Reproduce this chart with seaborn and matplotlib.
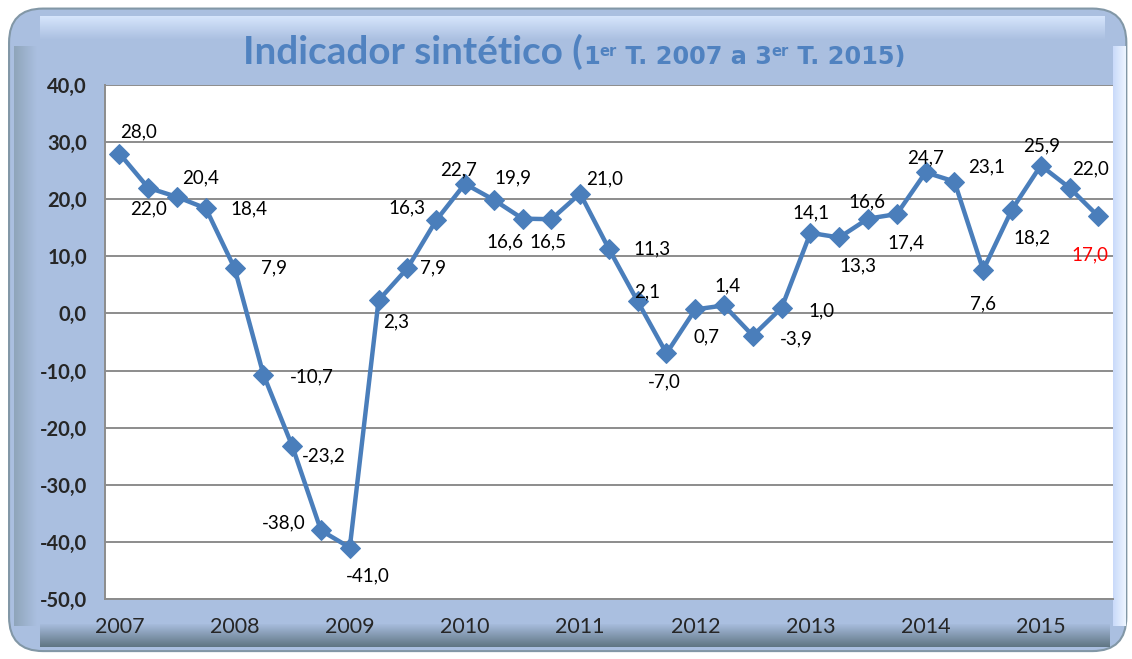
import numpy as np
import matplotlib
matplotlib.use("Agg")
import matplotlib.pyplot as plt
import seaborn as sns
import pandas as pd
from matplotlib.patches import FancyBboxPatch
from matplotlib.colors import LinearSegmentedColormap
from matplotlib.ticker import FixedLocator

# Quarterly values, 1st Q 2007 .. 3rd Q 2015
years = [2007, 2008, 2009, 2010, 2011, 2012, 2013, 2014, 2015]
values = [28.0, 22.0, 20.4, 18.4,
          7.9, -10.7, -23.2, -38.0,
          -41.0, 2.3, 7.9, 16.3,
          22.7, 19.9, 16.6, 16.5,
          21.0, 11.3, 2.1, -7.0,
          0.7, 1.4, -3.9, 1.0,
          14.1, 13.3, 16.6, 17.4,
          24.7, 23.1, 7.6, 18.2,
          25.9, 22.0, 17.0]
# label offsets (pixels) relative to each point
label_dx = [19, 0, 24, 43, 39, 48, 32, -37, 18, 18, 26, -29, -6, 19, -18, -3, 24, 43,
            9, -2, 11, 3, 43, 40, 1, 19, -1, 9, 0, 32, 0, 20, 1, 21, -8]
label_dy = [22, -21, 19, -1, 0, -2, -10, 8, -28, -22, 0, 12, 14, 22, -23, -23, 15, 0,
            10, -28, -27, 20, -3, -3, 20, -28, 17, -29, 15, 15, -34, -28, 20, 19, -39]
yticks = [40, 30, 20, 10, 0, -10, -20, -30, -40, -50]

df = pd.DataFrame({"idx": range(len(values)), "valor": values})

LINE = "#4a7ebb"
BG = "#aabfe0"
GRID = "#8c8c8c"

sns.set_style("white")
plt.rcParams["font.family"] = ["Lato", "DejaVu Sans"]

fig = plt.figure(figsize=(11.32, 6.59), dpi=100)
fig.patch.set_facecolor("white")

# rounded frame
frame = FancyBboxPatch((0.008, 0.012), 0.987, 0.975, boxstyle="round,pad=0,rounding_size=0.03",
                       transform=fig.transFigure, facecolor=BG, edgecolor="#8297a6",
                       linewidth=1.5, zorder=0, mutation_aspect=1132 / 659)
fig.patches.append(frame)


def band(rect, colors, vertical):
    b = fig.add_axes(rect, zorder=0.5)
    g = np.linspace(0, 1, 64)
    g = g.reshape(-1, 1) if vertical else g.reshape(1, -1)
    b.imshow(g, aspect="auto", cmap=LinearSegmentedColormap.from_list("c", colors))
    b.axis("off")


# bevel shading around the frame
band([0.012, 0.05, 0.02, 0.88], ["#8fa5ba", BG], False)
band([0.983, 0.05, 0.011, 0.88], ["#c9dafa", "#eef5ff"], False)
band([0.035, 0.94, 0.94, 0.035], ["#d6e5fc", BG], True)
band([0.035, 0.018, 0.945, 0.035], [BG, "#5f7583"], True)

ax = fig.add_axes([0.0928, 0.0911, 0.8902, 0.7799], zorder=1)
ax.set_facecolor("white")

sns.lineplot(data=df, x="idx", y="valor", ax=ax, color=LINE, linewidth=3.2,
             marker="D", markersize=10, markeredgecolor=LINE, zorder=3)

for i, v in enumerate(values):
    txt = f"{v:.1f}".replace(".", ",")
    ax.annotate(txt, (i, v), xytext=(label_dx[i], label_dy[i]), textcoords="offset pixels",
                ha="center", va="center", fontsize=13.5,
                color="red" if i == len(values) - 1 else "black", zorder=4)

ax.set_xlim(-0.5, len(values) - 0.5)
ax.set_ylim(-50, 40)
ax.set_yticks(yticks)
ax.set_yticklabels([f"{t:.1f}".replace(".", ",") for t in yticks], fontsize=14.5,
                   fontweight="bold")
ax.yaxis.grid(True, color=GRID, linewidth=1.4)
ax.set_axisbelow(True)

year_pos = [i for i in range(len(values)) if i % 4 == 0]
ax.set_xticks(year_pos)
ax.set_xticklabels([str(y) for y in years], fontsize=15.5)
ax.xaxis.set_minor_locator(FixedLocator(np.arange(-0.5, len(values), 1)))
ax.tick_params(axis="x", which="major", length=0, pad=13)
ax.tick_params(axis="x", which="minor", length=6, color=GRID, width=1.4, direction="out")
ax.tick_params(axis="y", length=6, color=GRID, width=1.4, direction="out", pad=7)
ax.set_xlabel("")
ax.set_ylabel("")
for s in ["top", "right"]:
    ax.spines[s].set_visible(False)
for s in ["left", "bottom"]:
    ax.spines[s].set_color(GRID)
    ax.spines[s].set_linewidth(1.4)

# title built from pieces so the superscripts sit right after the digits
TITLE = "#5082c0"
pieces = [("Indicador sintético (", 25, 0, "Lato"), ("1", 15.5, 0, "DejaVu Sans"),
          ("er", 9.5, 7, "DejaVu Sans"), (" T. 2007 a 3", 15.5, 0, "DejaVu Sans"),
          ("er", 9.5, 7, "DejaVu Sans"), (" T. 2015)", 15.5, 0, "DejaVu Sans")]
renderer = fig.canvas.get_renderer()
x0, x1 = 243, 905
base_px = 659 - 64
# measure once, then rescale so the title spans the same width as the original
widths = []
for text, size, rise, fam in pieces:
    t = fig.text(0, 0, text, fontsize=size, fontweight="bold", family=fam)
    widths.append(t.get_window_extent(renderer).width)
    t.remove()
scale = (x1 - x0) / sum(widths)
x_px = x0
for (text, size, rise, fam), w in zip(pieces, widths):
    fig.text(x_px / 1132, (base_px + rise * scale) / 659, text, fontsize=size * scale,
             fontweight="bold", family=fam, color=TITLE, ha="left", va="baseline")
    x_px += w * scale

fig.savefig("out.png", dpi=100, facecolor=fig.get_facecolor())
